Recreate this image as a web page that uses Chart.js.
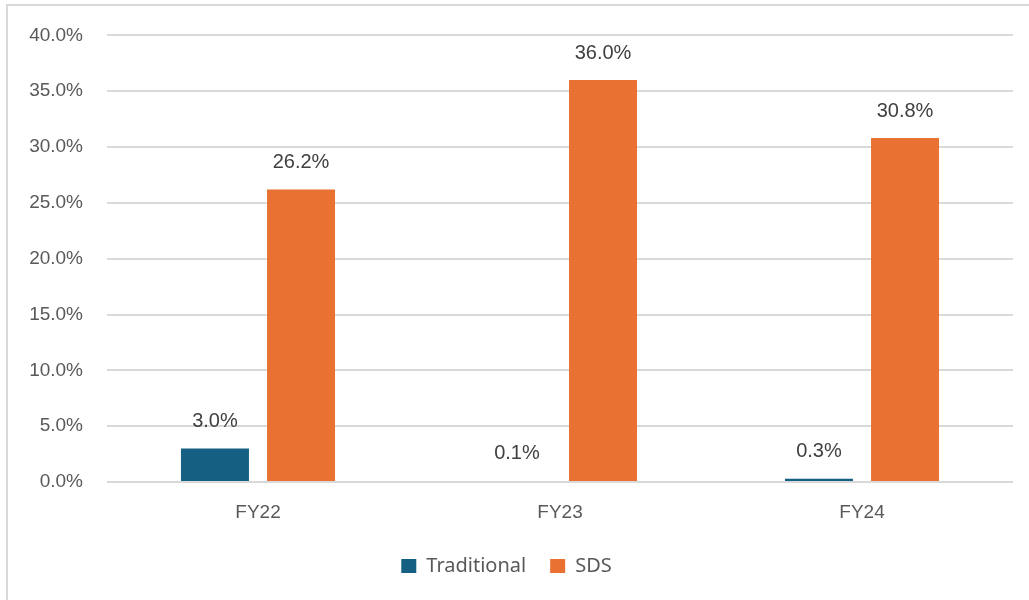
<!DOCTYPE html>
<html>
<head>
<meta charset="utf-8">
<script src="https://cdn.jsdelivr.net/npm/chart.js@4/dist/chart.umd.min.js"></script>
<style>
  html, body { margin: 0; padding: 0; background: #fff; overflow: hidden; }
  #frame { position: absolute; left: 6px; top: 4px; width: 1100px; height: 700px; border: 2px solid #d9d9d9; box-sizing: border-box; }
  #wrap { position: absolute; left: 0; top: 0; width: 1029px; height: 600px; }
</style>
</head>
<body>
<div id="frame"></div>
<div id="wrap"><canvas id="myChart"></canvas></div>
<script>
// data
const categories = ['FY22', 'FY23', 'FY24'];
const traditional = [3.0, 0.1, 0.3];
const sds = [26.2, 36.0, 30.8];
const yTicks = [0, 5, 10, 15, 20, 25, 30, 35, 40];

// value labels above each bar
const barLabels = {
  id: 'barLabels',
  afterDatasetsDraw(chart) {
    const ctx = chart.ctx;
    ctx.save();
    ctx.font = '20px "Liberation Sans", Arial, sans-serif';
    ctx.fillStyle = '#404040';
    ctx.textAlign = 'center';
    ctx.textBaseline = 'middle';
    chart.data.datasets.forEach(function(ds, i) {
      chart.getDatasetMeta(i).data.forEach(function(bar, j) {
        ctx.fillText(ds.data[j].toFixed(1) + '%', bar.x, bar.y - 27);
      });
    });
    ctx.restore();
  }
};

const config = {
  type: 'bar',
  data: {
    labels: categories,
    datasets: [{
      label: 'Traditional',
      data: traditional,
      backgroundColor: '#156082'
    }, {
      label: 'SDS',
      data: sds,
      backgroundColor: '#E97132'
    }]
  },
  options: {
    responsive: true,
    maintainAspectRatio: false,
    animation: false,
    categoryPercentage: 0.57,
    barPercentage: 0.79,
    layout: { padding: { top: 35, right: 16, left: 0, bottom: 14 } },
    plugins: {
      tooltip: { enabled: false },
      legend: {
        position: 'bottom',
        labels: {
          boxWidth: 15,
          boxHeight: 14,
          padding: 24,
          color: '#595959',
          font: { family: '"Noto Sans", sans-serif', size: 20 }
        }
      }
    },
    scales: {
      x: {
        grid: { display: false, drawTicks: false },
        border: { display: false },
        ticks: {
          color: '#595959',
          padding: 19,
          font: { family: '"Liberation Sans", Arial, sans-serif', size: 19 }
        },
        afterFit: function(scale) { scale.height = 50; }
      },
      y: {
        min: 0,
        max: 40,
        afterBuildTicks: function(scale) {
          scale.ticks = yTicks.map(function(v) { return { value: v }; });
        },
        grid: { color: '#d9d9d9', lineWidth: 2, drawTicks: false },
        border: { display: false },
        ticks: {
          color: '#595959',
          padding: 24,
          font: { family: '"Liberation Sans", Arial, sans-serif', size: 19 },
          callback: function(v) { return v.toFixed(1) + '%'; }
        },
        afterFit: function(scale) { scale.width = 107; }
      }
    }
  },
  plugins: [barLabels]
};

const myChart = new Chart(document.getElementById('myChart'), config);
</script>
</body>
</html>
